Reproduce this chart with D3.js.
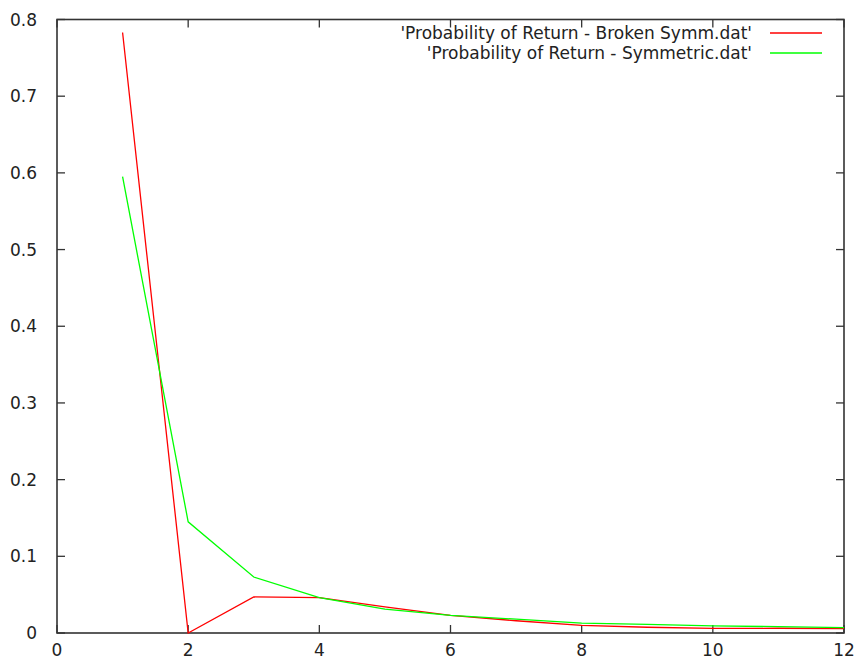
<!doctype html>
<html lang="en">
<head>
<meta charset="UTF-8">
<title>Probability of Return</title>
<script src="https://d3js.org/d3.v7.min.js"></script>
<style>
  body { margin: 0; background: #fff; }
  text { font-family: "DejaVu Sans", sans-serif; font-size: 17px; fill: #222; }
</style>
</head>
<body>
<div id="chart-area"></div>
<script>
const W = 862, H = 659;
const m = { left: 57, right: 18, top: 19.5, bottom: 26 };

// data
const steps = [1, 2, 3, 4, 5, 6, 7, 8, 9, 10, 11, 12];
const broken = [0.783, 0.0, 0.047, 0.046, 0.034, 0.023, 0.016, 0.010, 0.0075, 0.006, 0.0062, 0.0056];
const symmetric = [0.595, 0.145, 0.073, 0.046, 0.031, 0.023, 0.018, 0.0128, 0.0113, 0.0092, 0.0083, 0.007];
const xTicks = [0, 2, 4, 6, 8, 10, 12];
const yTicks = [0, 0.1, 0.2, 0.3, 0.4, 0.5, 0.6, 0.7, 0.8];
const seriesNames = ["'Probability of Return - Broken Symm.dat'", "'Probability of Return - Symmetric.dat'"];
const seriesColors = ['#ff0000', '#00ff00'];

const svg = d3.select('#chart-area').append('svg')
    .attr('width', W)
    .attr('height', H);

const x = d3.scaleLinear().domain([0, 12]).range([m.left, W - m.right]);
const y = d3.scaleLinear().domain([0, 0.8]).range([H - m.bottom, m.top]);

const tickLen = 8;
const axisColor = '#333';

// ticks (inside, mirrored)
xTicks.forEach(t => {
    svg.append('line').attr('x1', x(t)).attr('x2', x(t))
        .attr('y1', y(0)).attr('y2', y(0) - tickLen)
        .attr('stroke', axisColor).attr('stroke-width', 1.3);
    svg.append('line').attr('x1', x(t)).attr('x2', x(t))
        .attr('y1', y(0.8)).attr('y2', y(0.8) + tickLen)
        .attr('stroke', axisColor).attr('stroke-width', 1.3);
    svg.append('text').attr('x', x(t)).attr('y', H - 3)
        .attr('text-anchor', 'middle').text(t);
});
yTicks.forEach(t => {
    svg.append('line').attr('x1', x(0)).attr('x2', x(0) + tickLen)
        .attr('y1', y(t)).attr('y2', y(t))
        .attr('stroke', axisColor).attr('stroke-width', 1.3);
    svg.append('line').attr('x1', x(12)).attr('x2', x(12) - tickLen)
        .attr('y1', y(t)).attr('y2', y(t))
        .attr('stroke', axisColor).attr('stroke-width', 1.3);
    svg.append('text').attr('x', 37).attr('y', y(t)).attr('dy', '0.36em')
        .attr('text-anchor', 'end').text(t === 0 ? '0' : t.toFixed(1));
});

// border
svg.append('rect')
    .attr('x', x(0)).attr('y', y(0.8))
    .attr('width', x(12) - x(0)).attr('height', y(0) - y(0.8))
    .attr('fill', 'none').attr('stroke', axisColor).attr('stroke-width', 1.6);

const line = d3.line().x((d, i) => x(steps[i])).y(d => y(d));

[broken, symmetric].forEach((s, k) => {
    svg.append('path').datum(s)
        .attr('d', line)
        .attr('fill', 'none')
        .attr('stroke', seriesColors[k])
        .attr('stroke-width', 1.3);
});

// legend
seriesNames.forEach((name, k) => {
    const ly = 33 + k * 20;
    svg.append('text').attr('x', 752).attr('y', ly).attr('dy', '0.36em')
        .attr('text-anchor', 'end').text(name);
    svg.append('line').attr('x1', 770).attr('x2', 822)
        .attr('y1', ly).attr('y2', ly)
        .attr('stroke', seriesColors[k]).attr('stroke-width', 1.3);
});
</script>
</body>
</html>
